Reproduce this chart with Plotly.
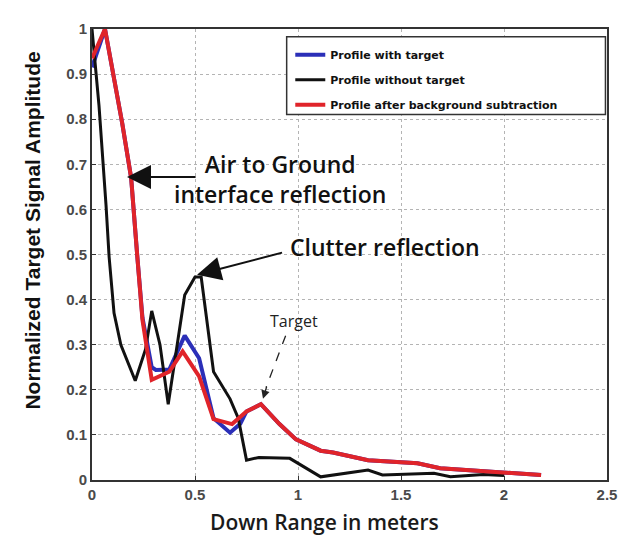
import plotly.graph_objects as go

# Profile with target (blue)
x_blue = [0, 0.063, 0.147, 0.19, 0.22, 0.245, 0.29, 0.31, 0.375, 0.45, 0.52, 0.59, 0.67, 0.72, 0.75, 0.82, 0.91, 0.99, 1.11, 1.17, 1.34, 1.5, 1.58, 1.69, 1.82, 1.98, 2.18]
y_blue = [0.915, 1.0, 0.79, 0.67, 0.495, 0.36, 0.25, 0.244, 0.245, 0.32, 0.27, 0.137, 0.105, 0.125, 0.152, 0.168, 0.124, 0.09, 0.065, 0.061, 0.044, 0.04, 0.037, 0.026, 0.022, 0.018, 0.011]

# Profile without target (black)
x_black = [0, 0.034, 0.068, 0.083, 0.107, 0.14, 0.21, 0.26, 0.29, 0.33, 0.37, 0.40, 0.45, 0.50, 0.53, 0.59, 0.67, 0.71, 0.75, 0.81, 0.96, 1.11, 1.34, 1.41, 1.66, 1.74, 1.9, 2.0]
y_black = [1.0, 0.83, 0.61, 0.495, 0.37, 0.30, 0.22, 0.29, 0.375, 0.30, 0.168, 0.26, 0.41, 0.45, 0.45, 0.24, 0.18, 0.137, 0.044, 0.05, 0.048, 0.007, 0.022, 0.011, 0.015, 0.007, 0.012, 0.01]

# Profile after background subtraction (red)
x_red = [0, 0.063, 0.147, 0.19, 0.22, 0.245, 0.29, 0.375, 0.44, 0.52, 0.59, 0.68, 0.75, 0.82, 0.91, 0.99, 1.11, 1.17, 1.34, 1.5, 1.58, 1.69, 1.82, 1.98, 2.18]
y_red = [0.935, 1.0, 0.79, 0.67, 0.495, 0.355, 0.222, 0.24, 0.285, 0.23, 0.135, 0.124, 0.152, 0.168, 0.124, 0.09, 0.065, 0.061, 0.044, 0.04, 0.037, 0.026, 0.022, 0.018, 0.011]

x_ticks = [0, 0.5, 1, 1.5, 2, 2.5]
x_tick_labels = ["0", "0.5", "1", "1.5", "2", "2.5"]
y_ticks = [0, 0.1, 0.2, 0.3, 0.4, 0.5, 0.6, 0.7, 0.8, 0.9, 1]
y_tick_labels = ["0", "0.1", "0.2", "0.3", "0.4", "0.5", "0.6", "0.7", "0.8", "0.9", "1"]

fig = go.Figure()
fig.add_trace(go.Scatter(x=x_blue, y=y_blue, mode="lines", name="Profile with target",
                         line=dict(color="#2b2fb8", width=4), legendgroup="a"))
fig.add_trace(go.Scatter(x=x_black, y=y_black, mode="lines", name="Profile without target",
                         line=dict(color="#111111", width=3), legendgroup="b"))
fig.add_trace(go.Scatter(x=x_red, y=y_red, mode="lines", name="Profile after background subtraction",
                         line=dict(color="#e0242a", width=4), legendgroup="c"))

axis_common = dict(showline=True, linecolor="#333333", linewidth=2, mirror=True,
                   showgrid=True, gridcolor="#b4b4b4", griddash="dot", gridwidth=1.2,
                   ticks="inside", ticklen=4, tickcolor="#333333", zeroline=False,
                   tickfont=dict(family="Liberation Sans", size=15, color="#4a4a4a", weight="bold"))

fig.update_xaxes(range=[0, 2.5], tickvals=x_ticks, ticktext=x_tick_labels, **axis_common)
fig.update_yaxes(range=[0, 1], tickvals=y_ticks, ticktext=y_tick_labels, **axis_common)

# Axis titles
fig.add_annotation(x=0.4524, y=-0.0937, xref="paper", yref="paper", text="Down Range in meters",
                   showarrow=False, xanchor="center", yanchor="middle",
                   font=dict(family="Open Sans", size=21, color="#1a1a1a", weight=600))
fig.add_annotation(x=-0.1146, y=0.553, xref="paper", yref="paper", text="Normalized Target Signal Amplitude",
                   showarrow=False, xanchor="center", yanchor="middle", textangle=-90,
                   font=dict(family="Liberation Sans", size=21, color="#111111", weight="bold"))

# Legend frame
fig.add_shape(type="rect", xref="paper", yref="paper", x0=0.378, x1=0.997, y0=0.8105, y1=0.983,
              fillcolor="white", line=dict(color="#333333", width=1.5), layer="above")

# Annotation texts
ann_font = dict(family="Open Sans", size=23, color="#111111", weight=600)
fig.add_annotation(x=0.913, y=0.667, xref="x", yref="y", text="Air to Ground<br>interface reflection",
                   showarrow=False, font=ann_font, align="center")
fig.add_annotation(x=1.42, y=0.516, xref="x", yref="y", text="Clutter reflection",
                   showarrow=False, font=ann_font)
fig.add_annotation(x=0.98, y=0.353, xref="x", yref="y", text="Target",
                   showarrow=False, font=dict(family="Open Sans", size=16, color="#222222"))

# Arrows
fig.add_annotation(x=0.17, y=0.672, ax=0.51, ay=0.672, xref="x", yref="y", axref="x", ayref="y",
                   text="", showarrow=True, arrowhead=2, arrowsize=2.4, arrowwidth=2, arrowcolor="#111111")
fig.add_annotation(x=0.51, y=0.455, ax=0.93, ay=0.505, xref="x", yref="y", axref="x", ayref="y",
                   text="", showarrow=True, arrowhead=2, arrowsize=2.4, arrowwidth=2, arrowcolor="#111111")
fig.add_shape(type="line", x0=0.94, y0=0.32, x1=0.845, y1=0.205, xref="x", yref="y",
              line=dict(color="#222222", width=1.3, dash="dash"))
fig.add_annotation(x=0.83, y=0.18, ax=0.85, ay=0.21, xref="x", yref="y", axref="x", ayref="y",
                   text="", showarrow=True, arrowhead=2, arrowsize=1.3, arrowwidth=1.3, arrowcolor="#222222")

fig.update_layout(
    width=628, height=537,
    margin=dict(l=84, r=29, t=13, b=65),
    paper_bgcolor="white", plot_bgcolor="white",
    showlegend=True,
    legend=dict(x=0.385, y=0.975, xanchor="left", yanchor="top",
                bgcolor="rgba(0,0,0,0)", borderwidth=0,
                font=dict(family="DejaVu Sans", size=11, color="#111111", weight="bold"),
                itemwidth=30, tracegroupgap=6),
)

fig.write_html("out.html")
